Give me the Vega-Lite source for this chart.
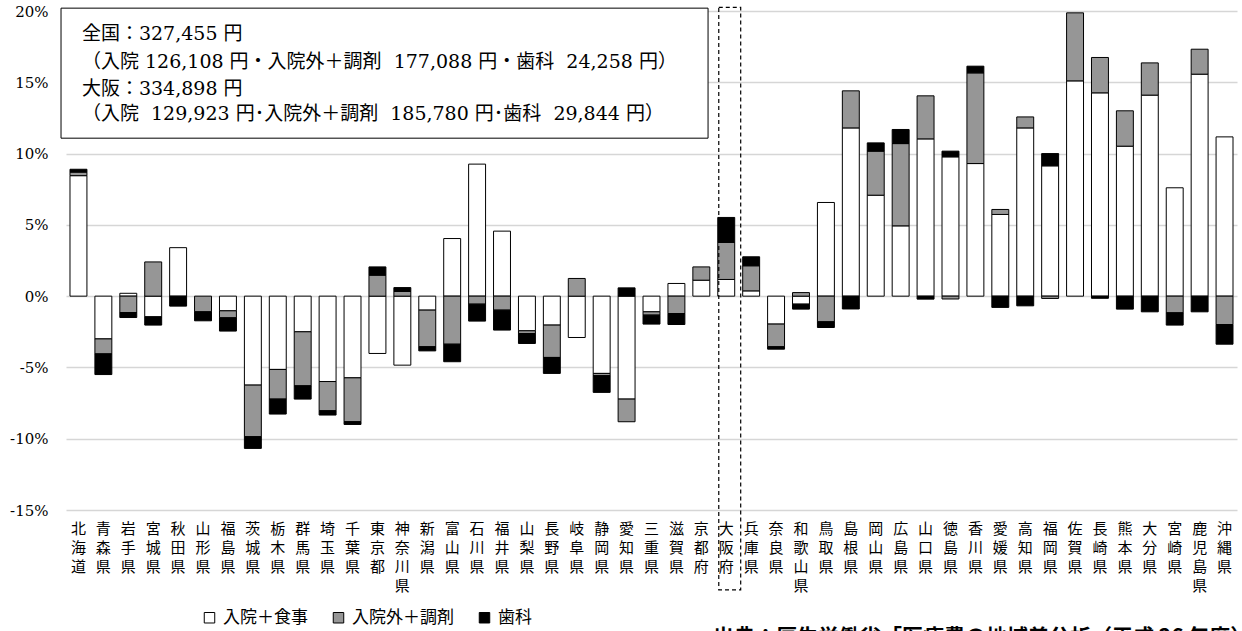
{
  "$schema": "https://vega.github.io/schema/vega-lite/v6.json",
  "width": 1171,
  "height": 499,
  "autosize": "none",
  "padding": {"left": 66, "top": 11, "right": 5, "bottom": 121},
  "background": "white",
  "config": {"view": {"stroke": null}},
  "datasets": {
    "bars": [
      {"p":"北海道","i":0,"c":"入院＋食事","k":0,"v":8.45},{"p":"北海道","i":0,"c":"入院外＋調剤","k":1,"v":0.25},{"p":"北海道","i":0,"c":"歯科","k":2,"v":0.2},
      {"p":"青森県","i":1,"c":"入院＋食事","k":0,"v":-3.0},{"p":"青森県","i":1,"c":"入院外＋調剤","k":1,"v":-1.05},{"p":"青森県","i":1,"c":"歯科","k":2,"v":-1.45},
      {"p":"岩手県","i":2,"c":"入院＋食事","k":0,"v":0.2},{"p":"岩手県","i":2,"c":"入院外＋調剤","k":1,"v":-1.15},{"p":"岩手県","i":2,"c":"歯科","k":2,"v":-0.35},
      {"p":"宮城県","i":3,"c":"入院＋食事","k":0,"v":-1.45},{"p":"宮城県","i":3,"c":"入院外＋調剤","k":1,"v":2.4},{"p":"宮城県","i":3,"c":"歯科","k":2,"v":-0.58},
      {"p":"秋田県","i":4,"c":"入院＋食事","k":0,"v":3.4},{"p":"秋田県","i":4,"c":"歯科","k":2,"v":-0.7},
      {"p":"山形県","i":5,"c":"入院外＋調剤","k":1,"v":-1.1},{"p":"山形県","i":5,"c":"歯科","k":2,"v":-0.63},
      {"p":"福島県","i":6,"c":"入院＋食事","k":0,"v":-1.03},{"p":"福島県","i":6,"c":"入院外＋調剤","k":1,"v":-0.49},{"p":"福島県","i":6,"c":"歯科","k":2,"v":-0.93},
      {"p":"茨城県","i":7,"c":"入院＋食事","k":0,"v":-6.24},{"p":"茨城県","i":7,"c":"入院外＋調剤","k":1,"v":-3.62},{"p":"茨城県","i":7,"c":"歯科","k":2,"v":-0.82},
      {"p":"栃木県","i":8,"c":"入院＋食事","k":0,"v":-5.14},{"p":"栃木県","i":8,"c":"入院外＋調剤","k":1,"v":-2.08},{"p":"栃木県","i":8,"c":"歯科","k":2,"v":-1.05},
      {"p":"群馬県","i":9,"c":"入院＋食事","k":0,"v":-2.5},{"p":"群馬県","i":9,"c":"入院外＋調剤","k":1,"v":-3.79},{"p":"群馬県","i":9,"c":"歯科","k":2,"v":-0.93},
      {"p":"埼玉県","i":10,"c":"入院＋食事","k":0,"v":-5.99},{"p":"埼玉県","i":10,"c":"入院外＋調剤","k":1,"v":-2.05},{"p":"埼玉県","i":10,"c":"歯科","k":2,"v":-0.3},
      {"p":"千葉県","i":11,"c":"入院＋食事","k":0,"v":-5.73},{"p":"千葉県","i":11,"c":"入院外＋調剤","k":1,"v":-3.08},{"p":"千葉県","i":11,"c":"歯科","k":2,"v":-0.19},
      {"p":"東京都","i":12,"c":"入院＋食事","k":0,"v":-4.02},{"p":"東京都","i":12,"c":"入院外＋調剤","k":1,"v":1.47},{"p":"東京都","i":12,"c":"歯科","k":2,"v":0.58},
      {"p":"神奈川県","i":13,"c":"入院＋食事","k":0,"v":-4.84},{"p":"神奈川県","i":13,"c":"入院外＋調剤","k":1,"v":0.33},{"p":"神奈川県","i":13,"c":"歯科","k":2,"v":0.27},
      {"p":"新潟県","i":14,"c":"入院＋食事","k":0,"v":-0.98},{"p":"新潟県","i":14,"c":"入院外＋調剤","k":1,"v":-2.57},{"p":"新潟県","i":14,"c":"歯科","k":2,"v":-0.29},
      {"p":"富山県","i":15,"c":"入院＋食事","k":0,"v":4.04},{"p":"富山県","i":15,"c":"入院外＋調剤","k":1,"v":-3.37},{"p":"富山県","i":15,"c":"歯科","k":2,"v":-1.23},
      {"p":"石川県","i":16,"c":"入院＋食事","k":0,"v":9.26},{"p":"石川県","i":16,"c":"入院外＋調剤","k":1,"v":-0.56},{"p":"石川県","i":16,"c":"歯科","k":2,"v":-1.19},
      {"p":"福井県","i":17,"c":"入院＋食事","k":0,"v":4.56},{"p":"福井県","i":17,"c":"入院外＋調剤","k":1,"v":-0.98},{"p":"福井県","i":17,"c":"歯科","k":2,"v":-1.4},
      {"p":"山梨県","i":18,"c":"入院＋食事","k":0,"v":-2.43},{"p":"山梨県","i":18,"c":"入院外＋調剤","k":1,"v":-0.19},{"p":"山梨県","i":18,"c":"歯科","k":2,"v":-0.7},
      {"p":"長野県","i":19,"c":"入院＋食事","k":0,"v":-2.03},{"p":"長野県","i":19,"c":"入院外＋調剤","k":1,"v":-2.27},{"p":"長野県","i":19,"c":"歯科","k":2,"v":-1.12},
      {"p":"岐阜県","i":20,"c":"入院＋食事","k":0,"v":-2.9},{"p":"岐阜県","i":20,"c":"入院外＋調剤","k":1,"v":1.24},
      {"p":"静岡県","i":21,"c":"入院＋食事","k":0,"v":-5.42},{"p":"静岡県","i":21,"c":"入院外＋調剤","k":1,"v":-0.16},{"p":"静岡県","i":21,"c":"歯科","k":2,"v":-1.17},
      {"p":"愛知県","i":22,"c":"入院＋食事","k":0,"v":-7.22},{"p":"愛知県","i":22,"c":"入院外＋調剤","k":1,"v":-1.59},{"p":"愛知県","i":22,"c":"歯科","k":2,"v":0.58},
      {"p":"三重県","i":23,"c":"入院＋食事","k":0,"v":-1.1},{"p":"三重県","i":23,"c":"入院外＋調剤","k":1,"v":-0.23},{"p":"三重県","i":23,"c":"歯科","k":2,"v":-0.63},
      {"p":"滋賀県","i":24,"c":"入院＋食事","k":0,"v":0.89},{"p":"滋賀県","i":24,"c":"入院外＋調剤","k":1,"v":-1.22},{"p":"滋賀県","i":24,"c":"歯科","k":2,"v":-0.77},
      {"p":"京都府","i":25,"c":"入院＋食事","k":0,"v":1.12},{"p":"京都府","i":25,"c":"入院外＋調剤","k":1,"v":0.93},
      {"p":"大阪府","i":26,"c":"入院＋食事","k":0,"v":1.17},{"p":"大阪府","i":26,"c":"入院外＋調剤","k":1,"v":2.6},{"p":"大阪府","i":26,"c":"歯科","k":2,"v":1.75},
      {"p":"兵庫県","i":27,"c":"入院＋食事","k":0,"v":0.37},{"p":"兵庫県","i":27,"c":"入院外＋調剤","k":1,"v":1.76},{"p":"兵庫県","i":27,"c":"歯科","k":2,"v":0.63},
      {"p":"奈良県","i":28,"c":"入院＋食事","k":0,"v":-1.96},{"p":"奈良県","i":28,"c":"入院外＋調剤","k":1,"v":-1.59},{"p":"奈良県","i":28,"c":"歯科","k":2,"v":-0.17},
      {"p":"和歌山県","i":29,"c":"入院＋食事","k":0,"v":-0.56},{"p":"和歌山県","i":29,"c":"入院外＋調剤","k":1,"v":0.25},{"p":"和歌山県","i":29,"c":"歯科","k":2,"v":-0.35},
      {"p":"鳥取県","i":30,"c":"入院＋食事","k":0,"v":6.57},{"p":"鳥取県","i":30,"c":"入院外＋調剤","k":1,"v":-1.8},{"p":"鳥取県","i":30,"c":"歯科","k":2,"v":-0.4},
      {"p":"島根県","i":31,"c":"入院＋食事","k":0,"v":11.8},{"p":"島根県","i":31,"c":"入院外＋調剤","k":1,"v":2.6},{"p":"島根県","i":31,"c":"歯科","k":2,"v":-0.9},
      {"p":"岡山県","i":32,"c":"入院＋食事","k":0,"v":7.08},{"p":"岡山県","i":32,"c":"入院外＋調剤","k":1,"v":3.09},{"p":"岡山県","i":32,"c":"歯科","k":2,"v":0.58},
      {"p":"広島県","i":33,"c":"入院＋食事","k":0,"v":4.93},{"p":"広島県","i":33,"c":"入院外＋調剤","k":1,"v":5.77},{"p":"広島県","i":33,"c":"歯科","k":2,"v":0.99},
      {"p":"山口県","i":34,"c":"入院＋食事","k":0,"v":11.03},{"p":"山口県","i":34,"c":"入院外＋調剤","k":1,"v":3.02},{"p":"山口県","i":34,"c":"歯科","k":2,"v":-0.21},
      {"p":"徳島県","i":35,"c":"入院＋食事","k":0,"v":9.77},{"p":"徳島県","i":35,"c":"入院外＋調剤","k":1,"v":-0.2},{"p":"徳島県","i":35,"c":"歯科","k":2,"v":0.4},
      {"p":"香川県","i":36,"c":"入院＋食事","k":0,"v":9.3},{"p":"香川県","i":36,"c":"入院外＋調剤","k":1,"v":6.36},{"p":"香川県","i":36,"c":"歯科","k":2,"v":0.47},
      {"p":"愛媛県","i":37,"c":"入院＋食事","k":0,"v":5.73},{"p":"愛媛県","i":37,"c":"入院外＋調剤","k":1,"v":0.35},{"p":"愛媛県","i":37,"c":"歯科","k":2,"v":-0.79},
      {"p":"高知県","i":38,"c":"入院＋食事","k":0,"v":11.8},{"p":"高知県","i":38,"c":"入院外＋調剤","k":1,"v":0.77},{"p":"高知県","i":38,"c":"歯科","k":2,"v":-0.68},
      {"p":"福岡県","i":39,"c":"入院＋食事","k":0,"v":9.14},{"p":"福岡県","i":39,"c":"入院外＋調剤","k":1,"v":-0.16},{"p":"福岡県","i":39,"c":"歯科","k":2,"v":0.86},
      {"p":"佐賀県","i":40,"c":"入院＋食事","k":0,"v":15.1},{"p":"佐賀県","i":40,"c":"入院外＋調剤","k":1,"v":4.77},
      {"p":"長崎県","i":41,"c":"入院＋食事","k":0,"v":14.26},{"p":"長崎県","i":41,"c":"入院外＋調剤","k":1,"v":2.48},{"p":"長崎県","i":41,"c":"歯科","k":2,"v":-0.15},
      {"p":"熊本県","i":42,"c":"入院＋食事","k":0,"v":10.52},{"p":"熊本県","i":42,"c":"入院外＋調剤","k":1,"v":2.48},{"p":"熊本県","i":42,"c":"歯科","k":2,"v":-0.91},
      {"p":"大分県","i":43,"c":"入院＋食事","k":0,"v":14.1},{"p":"大分県","i":43,"c":"入院外＋調剤","k":1,"v":2.26},{"p":"大分県","i":43,"c":"歯科","k":2,"v":-1.1},
      {"p":"宮崎県","i":44,"c":"入院＋食事","k":0,"v":7.6},{"p":"宮崎県","i":44,"c":"入院外＋調剤","k":1,"v":-1.17},{"p":"宮崎県","i":44,"c":"歯科","k":2,"v":-0.86},
      {"p":"鹿児島県","i":45,"c":"入院＋食事","k":0,"v":15.57},{"p":"鹿児島県","i":45,"c":"入院外＋調剤","k":1,"v":1.75},{"p":"鹿児島県","i":45,"c":"歯科","k":2,"v":-1.1},
      {"p":"沖縄県","i":46,"c":"入院＋食事","k":0,"v":11.17},{"p":"沖縄県","i":46,"c":"入院外＋調剤","k":1,"v":-1.99},{"p":"沖縄県","i":46,"c":"歯科","k":2,"v":-1.38}
    ]
  },
  "layer": [
    {
      "data": {"name": "bars"},
      "mark": {"type": "bar", "stroke": "black", "strokeWidth": 1},
      "encoding": {
        "x": {
          "field": "p", "type": "nominal",
          "sort": {"field": "i", "op": "min"},
          "scale": {"paddingInner": 0.32, "paddingOuter": 0.16},
          "axis": {
            "title": null, "labelAngle": 0, "labelExpr": "split(datum.label, '')",
            "labelFont": "Noto Sans CJK JP", "labelFontSize": 15, "labelLineHeight": 19,
            "labelPadding": 11, "labelBaseline": "top", "ticks": false, "domain": false,
            "labelColor": "black", "grid": false
          }
        },
        "y": {
          "field": "v", "type": "quantitative", "stack": "zero",
          "scale": {"domain": [-15, 20], "nice": false},
          "axis": {
            "title": null, "values": [-15, -10, -5, 0, 5, 10, 15, 20],
            "labelExpr": "datum.value + '%'",
            "labelFont": "DejaVu Serif", "labelFontSize": 15, "labelColor": "black",
            "labelPadding": 18, "ticks": false, "domain": false,
            "gridColor": "#d6d6d6", "gridWidth": 1.5
          }
        },
        "fill": {
          "field": "c", "type": "nominal",
          "scale": {"domain": ["入院＋食事", "入院外＋調剤", "歯科"], "range": ["#ffffff", "#969696", "#000000"]},
          "legend": {
            "title": null, "orient": "none", "legendX": 135, "legendY": 598,
            "direction": "horizontal", "symbolType": "square", "symbolSize": 110,
            "symbolStrokeColor": "black", "symbolStrokeWidth": 1,
            "labelFont": "Noto Sans CJK JP", "labelFontSize": 17, "labelColor": "black",
            "labelOffset": 5, "columnPadding": 22, "labelLimit": 0
          }
        },
        "order": {"field": "k", "type": "quantitative"}
      }
    },
    {
      "data": {"values": [{"x1": -0.2, "x2": 25.77, "y1": 20.2, "y2": 11.08}]},
      "mark": {"type": "rect", "fill": "white", "stroke": "black", "strokeWidth": 1},
      "encoding": {
        "x": {"field": "x1", "type": "quantitative", "scale": {"domain": [0, 47], "nice": false, "zero": false}, "axis": null},
        "x2": {"field": "x2"},
        "y": {"field": "y1", "type": "quantitative", "scale": {"domain": [-15, 20], "nice": false}, "axis": null},
        "y2": {"field": "y2"}
      }
    },
    {
      "data": {"values": [{"x1": 26.2, "x2": 27.08, "y1": 20.25, "y2": -20.6}]},
      "mark": {"type": "rect", "fill": null, "stroke": "black", "strokeWidth": 1.2, "strokeDash": [4, 3]},
      "encoding": {
        "x": {"field": "x1", "type": "quantitative", "scale": {"domain": [0, 47], "nice": false, "zero": false}, "axis": null},
        "x2": {"field": "x2"},
        "y": {"field": "y1", "type": "quantitative", "scale": {"domain": [-15, 20], "nice": false}, "axis": null},
        "y2": {"field": "y2"}
      }
    },
    {
      "data": {"values": [
        {"t": "全国：327,455 円", "x": 0.64, "y": 18.37},
        {"t": "（入院 126,108 円・入院外＋調剤\u00a0 177,088 円・歯科\u00a0 24,258 円）", "x": 0.64, "y": 16.43},
        {"t": "大阪：334,898 円", "x": 0.64, "y": 14.56},
        {"t": "（入院\u00a0 129,923 円･入院外＋調剤\u00a0 185,780 円･歯科\u00a0 29,844 円）", "x": 0.64, "y": 12.81}
      ]},
      "mark": {"type": "text", "align": "left", "baseline": "middle", "font": "DejaVu Serif, Noto Sans CJK JP", "fontSize": 19, "color": "black"},
      "encoding": {
        "x": {"field": "x", "type": "quantitative", "scale": {"domain": [0, 47], "nice": false, "zero": false}, "axis": null},
        "y": {"field": "y", "type": "quantitative", "scale": {"domain": [-15, 20], "nice": false}, "axis": null},
        "text": {"field": "t"}
      }
    },
    {
      "data": {"values": [
        {"t": "出典：厚生労働省「医療費の地域差分析（平成 26 年度）」", "x": 25.97, "y": -23.2}
      ]},
      "mark": {"type": "text", "align": "left", "baseline": "top", "font": "Noto Sans CJK JP", "fontSize": 21, "fontWeight": "bold", "color": "black"},
      "encoding": {
        "x": {"field": "x", "type": "quantitative", "scale": {"domain": [0, 47], "nice": false, "zero": false}, "axis": null},
        "y": {"field": "y", "type": "quantitative", "scale": {"domain": [-15, 20], "nice": false}, "axis": null},
        "text": {"field": "t"}
      }
    }
  ],
  "resolve": {"scale": {"x": "independent", "y": "independent"}}
}
